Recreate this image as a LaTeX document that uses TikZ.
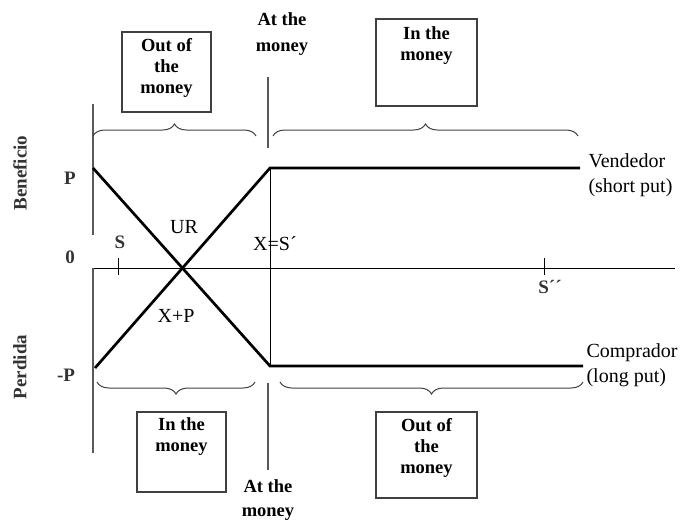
\documentclass[tikz,border=0pt]{standalone}
\usepackage{fontspec}
\setmainfont{Liberation Serif}
\usetikzlibrary{decorations.pathreplacing , positioning}

\begin{document}
\begin{tikzpicture}[x = 1pt , y = -1pt , font = \fontsize{20}{25}\selectfont ,
    payoff/.style = {line width = 2.7pt} ,
    zonebox/.style = {draw = black!75 , line width = 1.3pt , inner sep = 0pt , font = \fontsize{18.5}{21}\selectfont\bfseries} ,
    zonebrace/.style = {draw = black!75 , line width = 1pt , decorate , decoration = {brace , amplitude = 12pt}} ,
    gridline/.style = {draw = black!65 , line width = 1.3pt} ,
    axislabel/.style = {font = \fontsize{19}{23}\selectfont\bfseries , text = black!80}]
    \useasboundingbox (0,0) rectangle (680,520);

    \coordinate (O) at (93,268);
    \coordinate (E) at (675,268);
    \coordinate (Ptop) at (93,104);
    \coordinate (Pgap) at (93,235);
    \coordinate (Pbot) at (93,453);
    \coordinate (PL) at (93,168);
    \coordinate (ML) at (95,368);
    \coordinate (XP) at (270,168);
    \coordinate (XM) at (270,366);
    \coordinate (PR) at (580,168);
    \coordinate (MR) at (583,366);

    \draw[line width = 1pt] (O) -- (E); % eje
    \draw[gridline] (Ptop) -- (Pgap);
    \draw[gridline] (O) -- (Pbot);
    \draw[payoff] (PL) -- (XM) -- (MR);
    \draw[payoff] (ML) -- (XP) -- (PR);
    \draw[line width = 1pt] (XP) -- (XM);
    \draw[line width = 1pt] (118,258) -- (118,275);
    \draw[line width = 1pt] (544,258) -- (544,275);
    \draw[gridline] (268,77) -- (268,148);
    \draw[gridline] (268,383) -- (268,470);

    % llaves
    \draw[zonebrace] (93,136) -- (256,136);
    \draw[zonebrace] (273,136) -- (578,136);
    \draw[zonebrace] (255,382) -- (97,382);
    \draw[zonebrace] (583,382) -- (280,382);

    % cuadros
    \node[zonebox] (otmtop) at (166.5,72) {\parbox[c][80pt][t]{89pt}{\centering\vspace{6pt}Out of\\the\\money}};
    \node[zonebox] (itmtop) at (426.5,62.5) {\parbox[c][87pt][t]{101pt}{\centering\vspace{8pt}In the\\money}};
    \node[zonebox] (itmbot) at (181.5,452) {\parbox[c][80pt][t]{89pt}{\centering\vspace{6pt}In the\\money}};
    \node[zonebox] (otmbot) at (426.5,455) {\parbox[c][86pt][t]{101pt}{\centering\vspace{6pt}Out of\\the\\money}};
    \node[font = \fontsize{18.5}{26}\selectfont\bfseries , align = center] (attop) at (282,34) {At the\\money};
    \node[font = \fontsize{18.5}{24}\selectfont\bfseries , align = center] (atbot) at (268,500) {At the\\money};

    % etiquetas
    \node[axislabel , rotate = 90] (benef) at (20,173) {Beneficio};
    \node[axislabel , rotate = 90] (perd) at (20,367) {Perdida};
    \node[axislabel] (p) at (70,178) {P};
    \node[axislabel] (cero) at (70,257) {0};
    \node[axislabel] (mp) at (66,375) {-P};
    \node[axislabel] (s) at (120,242) {S};
    \node (ur) at (184,227) {UR};
    \node (xs) at (275,244) {X=S´};
    \node (xp) at (176,316) {X+P};
    \node[axislabel] (s2) at (550,287) {S´´};
    \node[anchor = west , align = left] (vend) at (585,175) {Vendedor\\(short put)};
    \node[anchor = west , align = left] (comp) at (583,365) {Comprador\\(long put)};
\end{tikzpicture}
\end{document}
